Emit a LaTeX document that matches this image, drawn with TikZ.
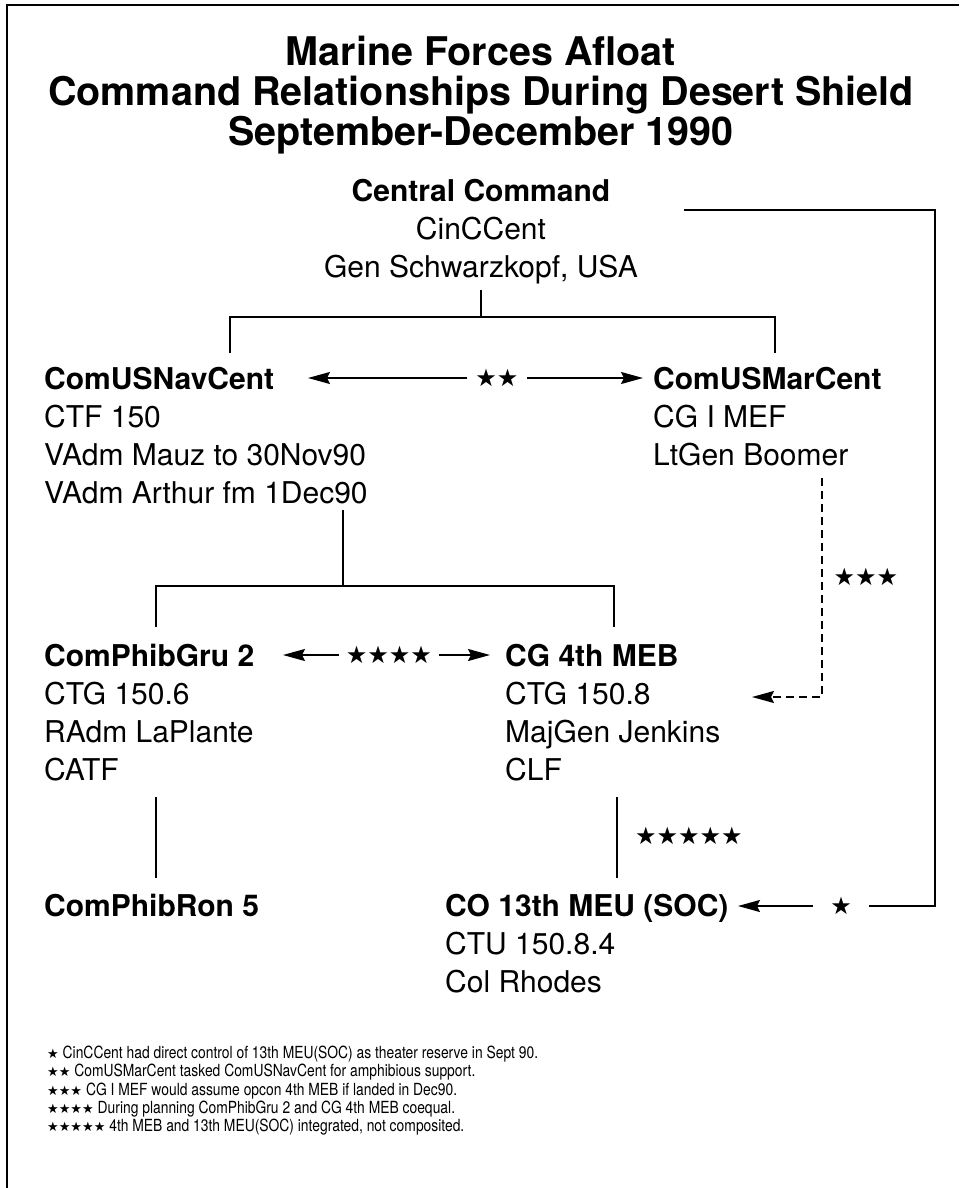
\documentclass[tikz,border=0pt]{standalone}
\usepackage{fontspec}
\setmainfont{TeX Gyre Heros}
\newfontfamily\starfont{DejaVu Sans}
\newfontfamily\narrowfont[FakeStretch=0.83]{TeX Gyre Heros}
\usetikzlibrary{arrows.meta,positioning}
\newcommand{\stars}[1]{{\starfont #1}}
\newcommand{\fstars}[1]{{\fontsize{13}{13}\selectfont\starfont #1}}
\tikzset{
  >={Stealth[length=22pt,width=12pt,inset=3pt]},
  link/.style={line width=1.8pt},
  arr/.style={->, line width=1.8pt},
  dline/.style={->, line width=1.8pt, dash pattern=on 8pt off 5pt},
  ttl/.style={font=\bfseries\fontsize{39.5}{40}\selectfont, align=center, inner sep=0pt},
  cmd/.style={font=\fontsize{30}{38}\selectfont, align=left, inner sep=0pt, anchor=north west},
  starlbl/.style={font=\starfont\fontsize{24}{24}\selectfont, inner sep=8pt},
  fnote/.style={font=\narrowfont\fontsize{16.7}{18.3}\selectfont, align=left, inner sep=0pt, anchor=north west},
}

\begin{document}
\begin{tikzpicture}[x=1pt,y=-1pt]
  \useasboundingbox (0,0) rectangle (959,1188);

  % frame
  \coordinate (fbl) at (7,1188);
  \coordinate (ftl) at (7,5);
  \coordinate (ftr) at (959,5);
  \draw[link] (fbl) -- (ftl) -- (ftr);

  % --- title ---
  \node[ttl, anchor=north] (title) at (481,36)
    {Marine Forces Afloat\\Command Relationships During Desert Shield\\September-December 1990};

  % --- commands ---
  \node[cmd, anchor=north, align=center] (central) at (481,179)
    {\textbf{Central Command}\\CinCCent\\Gen Schwarzkopf, USA};
  \node[cmd] (navcent) at (44,367)
    {\textbf{ComUSNavCent}\\CTF 150\\VAdm Mauz to 30Nov90\\VAdm Arthur fm 1Dec90};
  \node[cmd] (marcent) at (653,367)
    {\textbf{ComUSMarCent}\\CG I MEF\\LtGen Boomer};
  \node[cmd] (phibgru) at (44,644)
    {\textbf{ComPhibGru 2}\\CTG 150.6\\RAdm LaPlante\\CATF};
  \node[cmd] (meb) at (505,644)
    {\textbf{CG 4th MEB}\\CTG 150.8\\MajGen Jenkins\\CLF};
  \node[cmd] (phibron) at (44,894) {\textbf{ComPhibRon 5}};
  \node[cmd] (meu) at (445,894)
    {\textbf{CO 13th MEU (SOC)}\\CTU 150.8.4\\Col Rhodes};

  % --- star labels ---
  \node[starlbl, inner xsep=17pt] (s1) at (841,906) {\stars{★}};
  \node[starlbl] (s2) at (497,378) {\stars{★★}};
  \node[starlbl] (s3) at (866,577) {\stars{★★★}};
  \node[starlbl, inner sep=7pt] (s4) at (389,655) {\stars{★★★★}};
  \node[starlbl] (s5) at (689,836) {\stars{★★★★★}};

  % central to component commands
  \coordinate (cc1) at (481,290);
  \coordinate (cc2) at (481,317);
  \coordinate (ccl) at (230,317);
  \coordinate (ccr) at (775,317);
  \coordinate (ccl2) at (230,353);
  \coordinate (ccr2) at (775,353);
  \draw[link] (cc1) -- (cc2);
  \draw[link] (ccl2) -- (ccl) -- (ccr) -- (ccr2);

  % navcent to phibgru / meb
  \coordinate (nv1) at (343,510);
  \coordinate (nv2) at (343,586);
  \coordinate (nvl) at (156,586);
  \coordinate (nvr) at (614,586);
  \coordinate (nvl2) at (156,627);
  \coordinate (nvr2) at (614,627);
  \draw[link] (nv1) -- (nv2);
  \draw[link] (nvl2) -- (nvl) -- (nvr) -- (nvr2);

  % lower verticals
  \coordinate (pg1) at (156,797);
  \coordinate (pg2) at (156,878);
  \coordinate (mb1) at (617,797);
  \coordinate (mb2) at (617,878);
  \draw[link] (pg1) -- (pg2);
  \draw[link] (mb1) -- (mb2);

  % coequal arrows
  \coordinate (navtip) at (308,378);
  \coordinate (martip) at (643,378);
  \draw[arr] (s2) -- (navtip);
  \draw[arr] (s2) -- (martip);
  \coordinate (grutip) at (283,655);
  \coordinate (mebtip) at (490,655);
  \draw[arr] (s4) -- (grutip);
  \draw[arr] (s4) -- (mebtip);

  % I MEF opcon (dashed)
  \coordinate (dd1) at (822,478);
  \coordinate (dd2) at (822,697);
  \coordinate (ddtip) at (752,697);
  \draw[dline] (dd1) -- (dd2) -- (ddtip);

  % theater reserve loop
  \coordinate (lp1) at (684,210);
  \coordinate (lp2) at (935,210);
  \coordinate (lp3) at (935,906);
  \coordinate (meutip) at (738,906);
  \draw[link] (lp1) -- (lp2) -- (lp3) -- (s1);
  \draw[arr] (s1) -- (meutip);

  % --- notes ---
  \node[fnote] (notes) at (47,1046)
    {\fstars{★} CinCCent had direct control of 13th MEU(SOC) as theater reserve in Sept 90.\\
     \fstars{★★} ComUSMarCent tasked ComUSNavCent for amphibious support.\\
     \fstars{★★★} CG I MEF would assume opcon 4th MEB if landed in Dec90.\\
     \fstars{★★★★} During planning ComPhibGru 2 and CG 4th MEB coequal.\\
     \fstars{★★★★★} 4th MEB and 13th MEU(SOC) integrated, not composited.};

\end{tikzpicture}
\end{document}
